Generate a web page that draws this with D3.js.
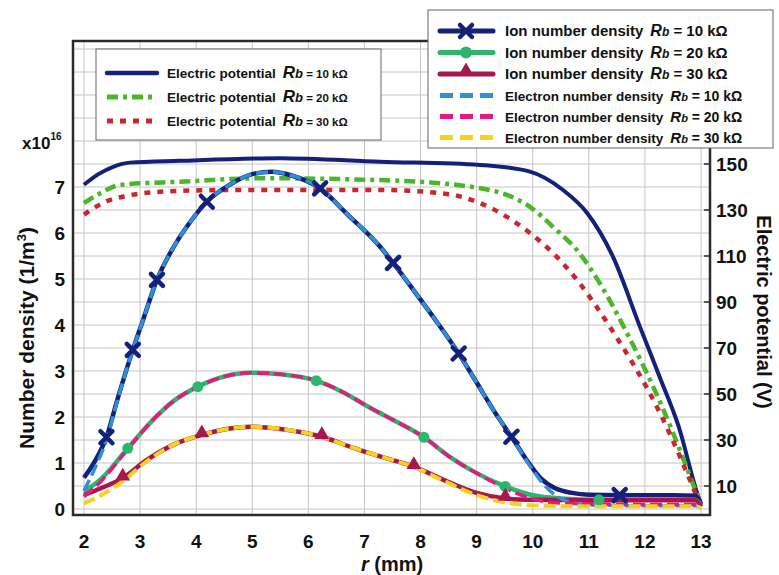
<!DOCTYPE html>
<html lang="en">
<head>
<meta charset="utf-8">
<title>Number density and electric potential</title>
<script src="https://cdn.jsdelivr.net/npm/d3@7"></script>
<style>
  body { margin: 0; background: #fff; }
  text { font-family: "Liberation Sans", Arial, sans-serif; font-weight: bold; fill: #111; }
</style>
</head>
<body>
<script>
// ---- data ----
// electric potential (V), right axis
var potR10 = [2.0, 2.25, 2.52, 2.82, 3.71, 5.49, 7.28, 9.06, 9.95, 10.54, 10.97, 11.43, 11.91, 12.27, 12.6, 12.93, 13.0];
var potV10 = [141, 145.5, 148.8, 150.6, 151.4, 152.5, 151, 149.6, 146.7, 138.7, 128.7, 109.7, 79.3, 57, 36, 7, 2];
var potR20 = [2.0, 2.29, 2.64, 3.71, 5.19, 7.28, 8.93, 9.95, 10.36, 10.84, 11.2, 11.68, 12.27, 12.98];
var potV20 = [133, 137.3, 140.9, 142.3, 143.8, 143, 140, 131.4, 122.7, 111, 98, 76.5, 46.5, 3];
var potR30 = [2.0, 2.46, 3.41, 4.6, 7.28, 8.47, 9.06, 9.54, 9.95, 10.43, 10.84, 11.38, 12.27, 13.0];
var potV30 = [128, 134.3, 138, 138.7, 138.7, 137, 133, 127, 120, 109.6, 98, 79, 41.7, 1];

// ion number density (x1e16 1/m3), left axis
var ionR10 = [2.0, 2.2, 2.4, 2.6, 2.87, 3.05, 3.3, 3.6, 3.9, 4.19, 4.6, 5.0, 5.35, 5.7, 6.21, 6.7, 7.28, 7.51, 8.0, 8.3, 8.68, 9.0, 9.3, 9.62, 9.9, 10.15, 10.4, 10.7, 11.0, 11.55, 12.0, 12.5, 12.9, 13.0];
var ionN10 = [0.68, 1.05, 1.56, 2.4, 3.46, 4.1, 4.98, 5.7, 6.25, 6.68, 7.05, 7.28, 7.33, 7.25, 6.97, 6.4, 5.7, 5.35, 4.55, 4.05, 3.38, 2.75, 2.15, 1.57, 1.05, 0.66, 0.45, 0.35, 0.31, 0.30, 0.30, 0.30, 0.29, 0.12];
var ionMark10 = [2.4, 2.87, 3.3, 4.19, 6.21, 7.51, 8.68, 9.62, 11.55];

var ionR20 = [2.0, 2.3, 2.78, 3.2, 3.6, 4.03, 4.5, 4.98, 5.5, 6.14, 6.6, 7.1, 7.6, 8.06, 8.5, 9.0, 9.51, 10.0, 10.5, 11.18, 12.0, 12.9, 13.0];
var ionN20 = [0.38, 0.65, 1.32, 1.9, 2.35, 2.66, 2.88, 2.96, 2.93, 2.79, 2.55, 2.2, 1.88, 1.56, 1.15, 0.78, 0.49, 0.3, 0.23, 0.2, 0.2, 0.2, 0.08];
var ionMark20 = [2.78, 4.03, 6.14, 8.06, 9.51, 11.18];

var ionR30 = [2.0, 2.3, 2.69, 3.1, 3.6, 4.1, 4.6, 4.98, 5.5, 6.24, 6.8, 7.4, 7.88, 8.4, 9.0, 9.51, 10.0, 11.0, 12.0, 12.9, 13.0];
var ionN30 = [0.30, 0.45, 0.67, 1.05, 1.4, 1.61, 1.75, 1.79, 1.74, 1.57, 1.33, 1.1, 0.92, 0.64, 0.35, 0.23, 0.2, 0.19, 0.19, 0.19, 0.05];
var ionMark30 = [2.69, 4.1, 6.24, 7.88, 9.51];

// electron number density
var eleR10 = [2.0, 2.2, 2.4, 2.6, 2.87, 3.05, 3.3, 3.6, 3.9, 4.19, 4.6, 5.0, 5.35, 5.7, 6.21, 6.7, 7.28, 7.51, 8.0, 8.3, 8.68, 9.0, 9.3, 9.62, 9.9, 10.15, 10.4, 10.7, 11.0, 12.0, 12.9, 13.0];
var eleN10 = [0.40, 0.9, 1.5, 2.38, 3.46, 4.1, 4.98, 5.7, 6.25, 6.68, 7.05, 7.28, 7.33, 7.25, 6.97, 6.4, 5.7, 5.35, 4.55, 4.05, 3.38, 2.75, 2.15, 1.57, 1.03, 0.6, 0.3, 0.14, 0.09, 0.07, 0.07, 0.03];
var eleR20 = [2.0, 2.3, 2.78, 3.2, 3.6, 4.03, 4.5, 4.98, 5.5, 6.14, 6.6, 7.1, 7.6, 8.06, 8.5, 9.0, 9.51, 10.0, 10.5, 11.18, 12.0, 12.9, 13.0];
var eleN20 = [0.27, 0.6, 1.3, 1.9, 2.35, 2.66, 2.88, 2.96, 2.93, 2.79, 2.55, 2.2, 1.88, 1.56, 1.15, 0.78, 0.45, 0.22, 0.13, 0.11, 0.1, 0.1, 0.04];
var eleR30 = [2.0, 2.3, 2.69, 3.1, 3.6, 4.1, 4.6, 4.98, 5.5, 6.24, 6.8, 7.4, 7.88, 8.4, 9.0, 9.51, 10.0, 11.0, 12.0, 12.9, 13.0];
var eleN30 = [0.12, 0.3, 0.6, 1.02, 1.4, 1.61, 1.75, 1.79, 1.74, 1.57, 1.33, 1.1, 0.92, 0.62, 0.3, 0.14, 0.08, 0.06, 0.06, 0.06, 0.02];

var xTicks = [2, 3, 4, 5, 6, 7, 8, 9, 10, 11, 12, 13];
var leftTicks = [0, 1, 2, 3, 4, 5, 6, 7];
var rightTicks = [10, 30, 50, 70, 90, 110, 130, 150];
var rbLabels = ["10 k\u03A9", "20 k\u03A9", "30 k\u03A9"];

// ---- layout ----
var w = 779, h = 575;
var frame = {left: 73, right: 710, top: 41, bottom: 515};

var x = d3.scaleLinear().domain([2, 13]).range([84, 701]);
var yN = d3.scaleLinear().domain([0, 7]).range([509, 187]);
var yV = d3.scaleLinear().domain([0, 150]).range([509, 164]);

var col = {
  pot10: "#15207a", pot20: "#4db52a", pot30: "#c9262e",
  ion10: "#15207a", ion20: "#2db56c", ion30: "#a8164f",
  ele10: "#2f90d8", ele20: "#e6197e", ele30: "#f6d21c"
};

var svg = d3.select("body").append("svg")
  .attr("width", w).attr("height", h);

svg.append("defs").append("clipPath").attr("id", "plot")
  .append("rect")
  .attr("x", frame.left).attr("y", frame.top)
  .attr("width", frame.right - frame.left).attr("height", frame.bottom - frame.top);

// grid
var grid = svg.append("g").attr("stroke", "#c4c4c4").attr("stroke-width", 1);
grid.selectAll("line.v").data(xTicks).enter().append("line")
  .attr("x1", function(d) { return x(d); }).attr("x2", function(d) { return x(d); })
  .attr("y1", frame.top).attr("y2", frame.bottom);
grid.selectAll("line.h").data(d3.range(0, 10.01, 0.5)).enter().append("line")
  .attr("x1", frame.left).attr("x2", frame.right)
  .attr("y1", function(d) { return yN(d); }).attr("y2", function(d) { return yN(d); });

// curves
var plot = svg.append("g").attr("clip-path", "url(#plot)");

function pts(rs, vs) { return rs.map(function(r, i) { return [r, vs[i]]; }); }
var lineN = d3.line().x(function(d) { return x(d[0]); }).y(function(d) { return yN(d[1]); }).curve(d3.curveMonotoneX);
var lineV = d3.line().x(function(d) { return x(d[0]); }).y(function(d) { return yV(d[1]); }).curve(d3.curveMonotoneX);

function draw(path, color, width, dash) {
  plot.append("path").attr("d", path).attr("fill", "none")
    .attr("stroke", color).attr("stroke-width", width)
    .attr("stroke-dasharray", dash || null)
    .attr("stroke-linejoin", "round");
}

draw(lineV(pts(potR10, potV10)), col.pot10, 4);
draw(lineV(pts(potR20, potV20)), col.pot20, 4.5, "11,5,4,5");
draw(lineV(pts(potR30, potV30)), col.pot30, 4.5, "6,7");

draw(lineN(pts(ionR10, ionN10)), col.ion10, 4.5);
draw(lineN(pts(ionR20, ionN20)), col.ion20, 4.5);
draw(lineN(pts(ionR30, ionN30)), col.ion30, 4.5);

draw(lineN(pts(eleR10, eleN10)), col.ele10, 3.5, "12,5");
draw(lineN(pts(eleR20, eleN20)), col.ele20, 3.5, "12,5");
draw(lineN(pts(eleR30, eleN30)), col.ele30, 4, "12,5");

// markers sit on the ion curves
function onCurve(rs, vs, r) {
  var i = d3.bisectLeft(rs, r);
  if (rs[i] === r) return vs[i];
  var t = (r - rs[i - 1]) / (rs[i] - rs[i - 1]);
  return vs[i - 1] + t * (vs[i] - vs[i - 1]);
}
var crossPath = "M-6,-6L6,6M-6,6L6,-6";
var tri = d3.symbol().type(d3.symbolTriangle).size(95)();

plot.selectAll("path.m10").data(ionMark10).enter().append("path")
  .attr("d", crossPath).attr("stroke", col.ion10).attr("stroke-width", 4.5).attr("fill", "none")
  .attr("stroke-linecap", "round")
  .attr("transform", function(d) { return "translate(" + x(d) + "," + yN(onCurve(ionR10, ionN10, d)) + ")"; });
plot.selectAll("circle.m20").data(ionMark20).enter().append("circle")
  .attr("r", 5.5).attr("fill", col.ion20)
  .attr("cx", function(d) { return x(d); })
  .attr("cy", function(d) { return yN(onCurve(ionR20, ionN20, d)); });
plot.selectAll("path.m30").data(ionMark30).enter().append("path")
  .attr("d", tri).attr("fill", col.ion30)
  .attr("transform", function(d) { return "translate(" + x(d) + "," + (yN(onCurve(ionR30, ionN30, d)) - 2) + ")"; });

// frame
svg.append("rect")
  .attr("x", frame.left).attr("y", frame.top)
  .attr("width", frame.right - frame.left).attr("height", frame.bottom - frame.top)
  .attr("fill", "none").attr("stroke", "#2b2b2b").attr("stroke-width", 2.5);

// right axis ticks
svg.selectAll("line.rt").data(rightTicks).enter().append("line")
  .attr("x1", frame.right - 6).attr("x2", frame.right)
  .attr("y1", function(d) { return yV(d); }).attr("y2", function(d) { return yV(d); })
  .attr("stroke", "#2b2b2b").attr("stroke-width", 1.5);

// tick labels
svg.selectAll("text.xt").data(xTicks).enter().append("text")
  .attr("x", function(d) { return x(d); }).attr("y", 548)
  .attr("text-anchor", "middle").style("font-size", "19px").text(function(d) { return d; });
svg.selectAll("text.lt").data(leftTicks).enter().append("text")
  .attr("x", 65).attr("y", function(d) { return yN(d) + 7; })
  .attr("text-anchor", "end").style("font-size", "19px").text(function(d) { return d; });
svg.selectAll("text.rtl").data(rightTicks).enter().append("text")
  .attr("x", 716).attr("y", function(d) { return yV(d) + 7; })
  .style("font-size", "19px").text(function(d) { return d; });

// axis titles
var ex = svg.append("text").attr("x", 22).attr("y", 149).style("font-size", "17px");
ex.append("tspan").text("x10");
ex.append("tspan").attr("dy", -9).style("font-size", "10px").text("16");

var lt = svg.append("text").attr("transform", "translate(34,338) rotate(-90)")
  .attr("text-anchor", "middle").style("font-size", "21px");
lt.append("tspan").text("Number density (1/m");
lt.append("tspan").attr("dy", -8).style("font-size", "13px").text("3");
lt.append("tspan").attr("dy", 8).text(")");

svg.append("text").attr("transform", "translate(757,312) rotate(90)")
  .attr("text-anchor", "middle").style("font-size", "20px").text("Electric potential (V)");

var xl = svg.append("text").attr("x", 392).attr("y", 571).attr("text-anchor", "middle").style("font-size", "20px");
xl.append("tspan").style("font-style", "italic").text("r");
xl.append("tspan").text(" (mm)");

// legends
function rbText(g, tx, ty, lead, rb, s1, s2, s3) {
  var t = g.append("text").attr("x", tx).attr("y", ty).style("font-size", s1 + "px");
  t.append("tspan").text(lead);
  t.append("tspan").attr("dx", 7).style("font-style", "italic").style("font-size", s2 + "px").text("R");
  t.append("tspan").style("font-style", "italic").style("font-size", (s2 - 4) + "px").text("b");
  t.append("tspan").style("font-size", s3 + "px").text(" = " + rb);
}

var leg1 = svg.append("g");
leg1.append("rect").attr("x", 96).attr("y", 49).attr("width", 285).attr("height", 91)
  .attr("fill", "#fff").attr("stroke", "#666").attr("stroke-width", 1);
var l1 = [[col.pot10, null, 4.5], [col.pot20, "11,5,4,5", 5], [col.pot30, "6,7", 5]];
l1.forEach(function(s, i) {
  var yy = 73 + i * 24;
  leg1.append("line").attr("x1", 107).attr("x2", 157).attr("y1", yy).attr("y2", yy)
    .attr("stroke", s[0]).attr("stroke-width", s[2]).attr("stroke-dasharray", s[1])
    .attr("stroke-linecap", s[1] ? null : "round");
  rbText(leg1, 167, yy + 5, "Electric potential", rbLabels[i], 13.5, 17, 11.5);
});

var leg2 = svg.append("g");
leg2.append("rect").attr("x", 428).attr("y", 10).attr("width", 345).attr("height", 138)
  .attr("fill", "#fff").attr("stroke", "#666").attr("stroke-width", 1);
var ionCols = [col.ion10, col.ion20, col.ion30];
var eleCols = [col.ele10, col.ele20, col.ele30];
ionCols.forEach(function(c, i) {
  var yy = 31 + i * 21.5;
  leg2.append("line").attr("x1", 440).attr("x2", 493).attr("y1", yy).attr("y2", yy)
    .attr("stroke", c).attr("stroke-width", 5).attr("stroke-linecap", "round");
  rbText(leg2, 505, yy + 5, "Ion number density", rbLabels[i], 15, 16, 15);
});
leg2.append("path").attr("d", crossPath).attr("stroke", col.ion10).attr("stroke-width", 4.5)
  .attr("stroke-linecap", "round").attr("transform", "translate(466,31)");
leg2.append("circle").attr("cx", 466).attr("cy", 52.5).attr("r", 6).attr("fill", col.ion20);
leg2.append("path").attr("d", tri).attr("fill", col.ion30).attr("transform", "translate(466,71)");
eleCols.forEach(function(c, i) {
  var yy = 95.5 + i * 21;
  leg2.append("line").attr("x1", 440).attr("x2", 497).attr("y1", yy).attr("y2", yy)
    .attr("stroke", c).attr("stroke-width", 5).attr("stroke-dasharray", "13,7");
  rbText(leg2, 505, yy + 5, "Electron number density", rbLabels[i], 13.5, 15, 14);
});
</script>
</body>
</html>
